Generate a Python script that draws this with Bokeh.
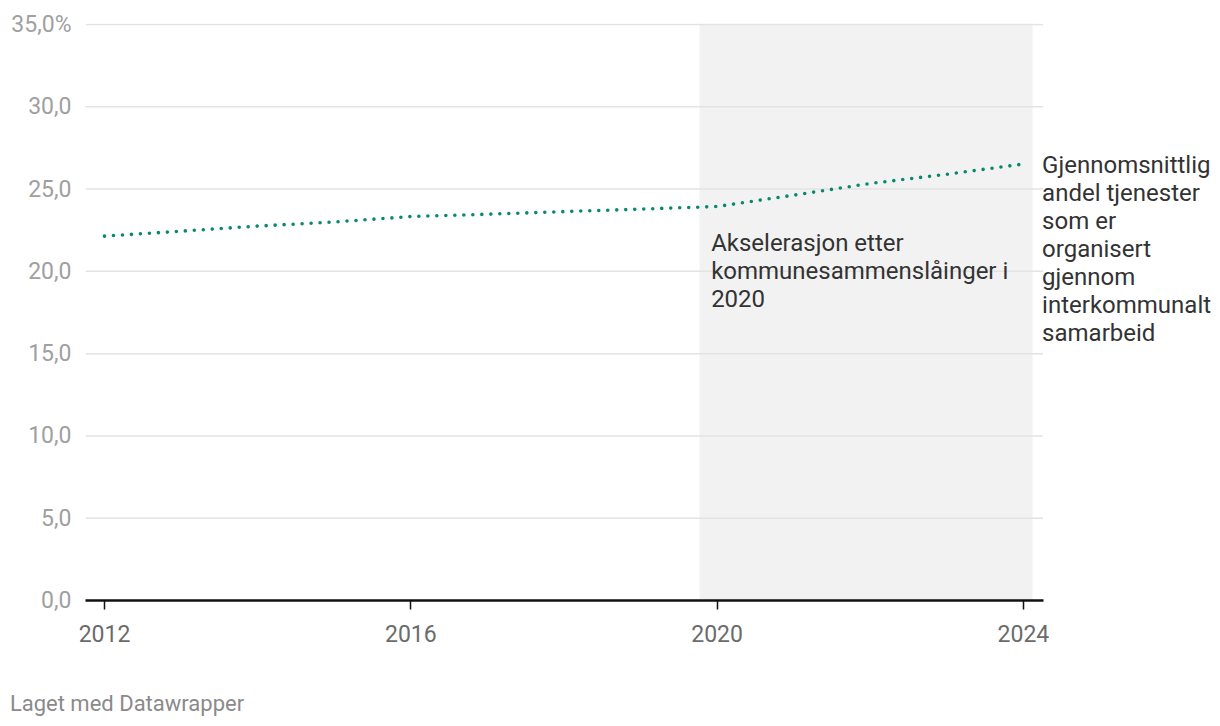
from bokeh.plotting import figure
from bokeh.models import Range1d, FixedTicker, BoxAnnotation, Label, ColumnDataSource, LinearAxis
from bokeh.embed import file_html
from bokeh.resources import INLINE

years = [2012, 2013, 2014, 2015, 2016, 2017, 2018, 2019, 2020, 2021, 2022, 2023, 2024]
share = [22.14, 22.44, 22.75, 23.0, 23.33, 23.47, 23.63, 23.78, 23.94, 24.63, 25.34, 25.9, 26.52]
x_ticks = [2012, 2016, 2020, 2024]
y_ticks = [0, 5, 10, 15, 20, 25, 30, 35]
y_tick_labels = ["0,0", "5,0", "10,0", "15,0", "20,0", "25,0", "30,0", "35,0%"]
highlight_start, highlight_end = 2019.77, 2024.12
annotation_text = "Akselerasjon etter\nkommunesammenslåinger i\n2020"
series_label = "Gjennomsnittlig\nandel tjenester\nsom er\norganisert\ngjennom\ninterkommunalt\nsamarbeid"
footer = "Laget med Datawrapper"

FONT = "Roboto"
X0, X1 = 2011.752, 2024.257      # extent of the chart area (axis and grid)
X_END = 2026.521                 # frame extended to make room for the series label
FOOTER_X = 2012.294              # horizontal centre of the footer text

p = figure(width=1216, height=718, output_backend="svg", toolbar_location=None,
           x_range=Range1d(X0, X_END), y_range=Range1d(0, 35.06),
           min_border_left=85, min_border_right=0, min_border_top=23, min_border_bottom=118)
p.outline_line_color = None
p.background_fill_color = "white"
p.border_fill_color = "white"

band = BoxAnnotation(left=highlight_start, right=highlight_end, fill_color="#f2f2f2",
                     fill_alpha=1.0, line_color=None, level="image")
p.add_layout(band)

p.xgrid.grid_line_color = None
p.ygrid.grid_line_color = None
p.segment(x0=[X0] * len(y_ticks), x1=[X1] * len(y_ticks), y0=y_ticks, y1=y_ticks,
          line_color="#e3e3e3", line_width=1.5)

src = ColumnDataSource(dict(x=years, y=share))
p.line("x", "y", source=src, line_color="#08896c", line_width=3.6,
       line_dash="0 9", line_cap="round")

# x axis
xa = p.xaxis[0]
xa.ticker = FixedTicker(ticks=x_ticks)
xa.bounds = (X0, X1)
xa.axis_line_color = "#111111"
xa.axis_line_width = 2.5
xa.major_tick_line_color = "#111111"
xa.major_tick_line_width = 1.5
xa.major_tick_out = 9
xa.major_tick_in = 0
xa.minor_tick_line_color = None
xa.major_label_text_font = FONT
xa.major_label_text_font_size = "23px"
xa.major_label_text_color = "#6b6b6b"
xa.major_label_standoff = 15

# footer line (credit), placed below the x axis
fa = LinearAxis(ticker=FixedTicker(ticks=[FOOTER_X]),
                major_label_overrides={FOOTER_X: footer})
fa.axis_line_color = None
fa.major_tick_line_color = None
fa.minor_tick_line_color = None
fa.major_tick_out = 0
fa.major_tick_in = 0
fa.major_label_text_font = FONT
fa.major_label_text_font_size = "22px"
fa.major_label_text_color = "#8a8a8a"
fa.major_label_standoff = 46
p.add_layout(fa, "below")

# y axis
ya = p.yaxis[0]
ya.ticker = FixedTicker(ticks=y_ticks)
ya.major_label_overrides = {t: l for t, l in zip(y_ticks, y_tick_labels)}
ya.axis_line_color = None
ya.major_tick_line_color = None
ya.minor_tick_line_color = None
ya.major_label_text_font = FONT
ya.major_label_text_font_size = "23px"
ya.major_label_text_color = "#a0a0a0"
ya.major_label_standoff = 8

# annotations
p.add_layout(Label(x=2020, y=22.57, x_offset=-6, text=annotation_text,
                   text_font=FONT, text_font_size="24px", text_color="#333333",
                   text_baseline="top", text_align="left", text_line_height=1.0))
p.add_layout(Label(x=X1, y=27.31, x_offset=-1, text=series_label,
                   text_font=FONT, text_font_size="24px", text_color="#333333",
                   text_baseline="top", text_align="left", text_line_height=1.0))

open("out.html", "w").write(file_html(p, INLINE))
